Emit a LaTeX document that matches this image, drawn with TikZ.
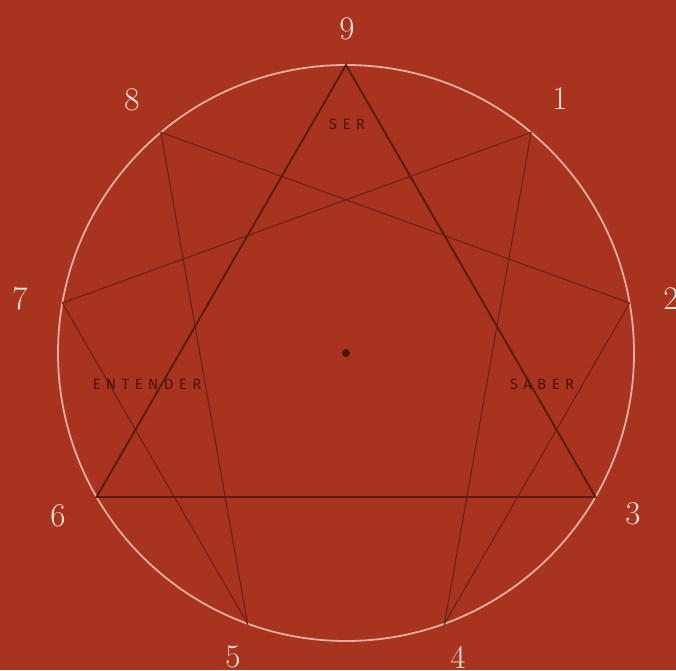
\documentclass[tikz,border=0pt]{standalone}
\usepackage{fontspec}
\usetikzlibrary{calc}
\newfontfamily\labfont[LetterSpace=36]{Fira Sans}
\definecolor{bg}{HTML}{A8341F}
\definecolor{ring}{HTML}{E3AE9E}
\definecolor{tri}{HTML}{5A1B10}
\definecolor{hex}{HTML}{6A2215}
\definecolor{num}{HTML}{F6E7DD}
\definecolor{word}{HTML}{4A150C}
\begin{document}
\begin{tikzpicture}[x=1pt,y=1pt,
  numlab/.style={text=num,font=\fontsize{33}{33}\selectfont,inner sep=0pt},
  wordlab/.style={text=word,font=\labfont\fontsize{15}{15}\selectfont,inner sep=0pt},
  triline/.style={draw=tri,line width=1.9pt,line join=miter},
  hexline/.style={draw=hex,line width=1.1pt}]
\fill[bg] (0,0) rectangle (676,670);
\useasboundingbox (0,0) rectangle (676,670);
\coordinate (c) at (346,317);
\foreach \k in {0,...,8}{
  \coordinate (p\k) at ($(c)+({90-40*\k}:288)$);
}
\draw[ring,line width=1.8pt] (c) circle[radius=288];
% hexad
\draw[hexline] (p1) -- (p4) -- (p2) -- (p8) -- (p5) -- (p7) -- cycle;
% triangle
\draw[triline] (p0) -- (p3) -- (p6) -- cycle;
\fill[word] (c) circle[radius=4];
% numbers
\node[numlab] (n9) at (347,641) {9};
\node[numlab] (n1) at (560,571) {1};
\node[numlab] (n2) at (671,371) {2};
\node[numlab] (n3) at (633,156) {3};
\node[numlab] (n4) at (458,13) {4};
\node[numlab] (n5) at (233,13) {5};
\node[numlab] (n6) at (58,154) {6};
\node[numlab] (n7) at (20,371) {7};
\node[numlab] (n8) at (132,570) {8};
% words
\node[wordlab] (ser) at (347,546) {SER};
\node[wordlab] (ent) at (147,286) {ENTENDER};
\node[wordlab] (sab) at (542,286) {SABER};
\end{tikzpicture}
\end{document}
